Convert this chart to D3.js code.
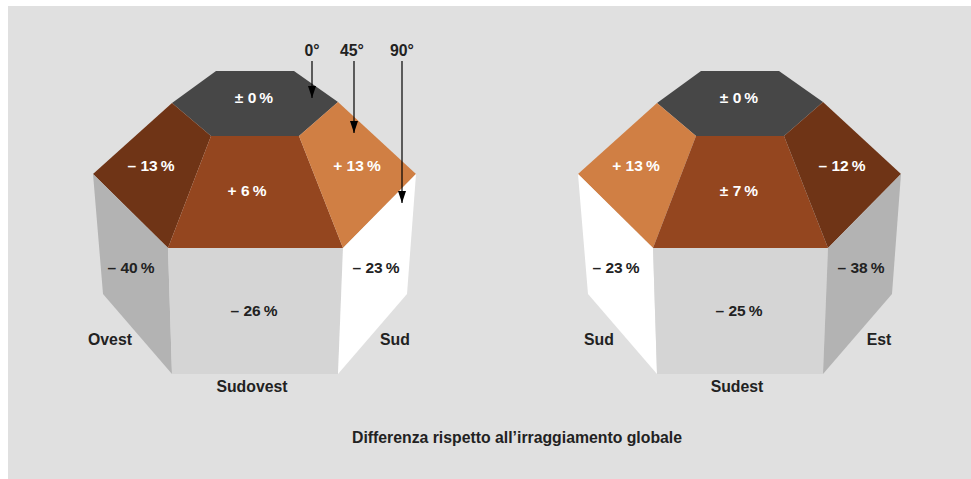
<!DOCTYPE html>
<html>
<head>
<meta charset="utf-8">
<script src="https://cdn.jsdelivr.net/npm/d3@7"></script>
<style>
  html, body { margin: 0; padding: 0; background: #fff; }
  svg { display: block; }
  text { font-family: "Liberation Sans", Arial, sans-serif; font-weight: bold; }
</style>
</head>
<body>
<div id="chart"></div>
<script>
// differences from global irradiation, faces in the order of faceNames
const faceNames = ['top', 'upperLeft', 'upperMid', 'upperRight', 'wallLeft', 'wallMid', 'wallRight'];
const westValues = ['± 0\u2009%', '– 13\u2009%', '+ 6\u2009%', '+ 13\u2009%', '– 40\u2009%', '– 26\u2009%', '– 23\u2009%'];
const eastValues = ['± 0\u2009%', '+ 13\u2009%', '± 7\u2009%', '– 12\u2009%', '– 23\u2009%', '– 25\u2009%', '– 38\u2009%'];
const westDirections = ['Ovest', 'Sudovest', 'Sud'];
const eastDirections = ['Sud', 'Sudest', 'Est'];
const tiltLabels = ['0°', '45°', '90°'];
const caption = 'Differenza rispetto all’irraggiamento globale';

const width = 971, height = 479;

// shape of the roof in its own units: x from the axis, y down from the ridge
const roofPoints = {
    a: [-39, 0], b: [39, 0], c: [83, 31], d: [44, 65], e: [-44, 65], f: [-83, 32],
    g: [-162, 103], h: [-87, 177], i: [88, 177], j: [161, 103],
    k: [-83, 303], l: [83, 303], m: [-152, 223], n: [152, 223]
};
const faceOutlines = {
    top: 'abcdef', upperLeft: 'fehg', upperMid: 'edih', upperRight: 'dcji',
    wallLeft: 'ghkm', wallMid: 'hilk', wallRight: 'jnli'
};
const faceLabelAt = {
    top: [-1, 27], upperLeft: [-104, 95], upperMid: [-1, 120], upperRight: [102, 95],
    wallLeft: [-124, 197], wallMid: [-1, 240], wallRight: [121, 197]
};
const directionY = [268, 315, 268];
const tiltArrows = [[57, 27], [99, 62], [147, 132]];

const brown = { dark: '#6f3416', mid: '#94461f', light: '#d07f44' };
const grey = { dark: '#b3b3b3', mid: '#d5d5d5', light: '#ffffff' };

const panels = [
    {
        values: westValues, directions: westDirections, directionX: [-145, -3, 140],
        range: [93, 416], midNudge: -7, tilt: true,
        fills: ['#474747', brown.dark, brown.mid, brown.light, grey.dark, grey.mid, grey.light]
    },
    {
        values: eastValues, directions: eastDirections, directionX: [-141, -3, 139],
        range: [578, 901], midNudge: 0, tilt: false,
        fills: ['#474747', brown.light, brown.mid, brown.dark, grey.light, grey.mid, grey.dark]
    }
];
const valueFills = ['#fff', '#fff', '#fff', '#fff', '#222', '#222', '#222'];

const svg = d3.select('#chart').append('svg')
    .attr('width', width)
    .attr('height', height);

svg.append('rect')
    .attr('x', 8).attr('y', 6)
    .attr('width', width - 8).attr('height', height - 6)
    .attr('fill', '#e0e0e0');

svg.append('defs').append('marker')
    .attr('id', 'arrowhead')
    .attr('viewBox', '0 0 12 8')
    .attr('refX', 12).attr('refY', 4)
    .attr('orient', 'auto')
    .attr('markerUnits', 'userSpaceOnUse')
    .attr('markerWidth', 12).attr('markerHeight', 8)
    .append('path')
    .attr('d', 'M0,0L12,4L0,8Z')
    .attr('fill', '#000');

const y = d3.scaleLinear().domain([0, 303]).range([71, 374]);

panels.forEach((panel) => {
    const x = d3.scaleLinear().domain([-162, 161]).range(panel.range);
    const outline = d3.line().x((p) => x(p[0])).y((p) => y(p[1])).curve(d3.curveLinearClosed);
    const g = svg.append('g');

    g.selectAll('path.face')
        .data(faceNames)
        .enter()
        .append('path')
        .attr('class', 'face')
        .attr('d', (name) => outline(Array.from(faceOutlines[name], (k) => roofPoints[k])))
        .attr('fill', (name, i) => panel.fills[i]);

    g.selectAll('text.value')
        .data(faceNames)
        .enter()
        .append('text')
        .attr('class', 'value')
        .attr('x', (name) => x(faceLabelAt[name][0] + (name === 'upperMid' ? panel.midNudge : 0)))
        .attr('y', (name) => y(faceLabelAt[name][1]))
        .attr('dy', '0.35em')
        .attr('text-anchor', 'middle')
        .attr('font-size', 15.5)
        .attr('fill', (name, i) => valueFills[i])
        .text((name, i) => panel.values[i]);

    g.selectAll('text.direction')
        .data(panel.directions)
        .enter()
        .append('text')
        .attr('class', 'direction')
        .attr('x', (d, i) => x(panel.directionX[i]))
        .attr('y', (d, i) => y(directionY[i]))
        .attr('dy', '0.35em')
        .attr('text-anchor', 'middle')
        .attr('font-size', 15.8)
        .attr('fill', '#222')
        .text((d) => d);

    if (panel.tilt) {
        g.selectAll('line.tilt')
            .data(tiltArrows)
            .enter()
            .append('line')
            .attr('class', 'tilt')
            .attr('x1', (d) => x(d[0])).attr('x2', (d) => x(d[0]))
            .attr('y1', y(-10))
            .attr('y2', (d) => y(d[1]))
            .attr('stroke', '#000')
            .attr('stroke-width', 1.2)
            .attr('marker-end', 'url(#arrowhead)');

        g.selectAll('text.tilt')
            .data(tiltLabels)
            .enter()
            .append('text')
            .attr('class', 'tilt')
            .attr('x', (d, i) => x(tiltArrows[i][0]) - (i === 1 ? 2 : 0))
            .attr('y', y(-21))
            .attr('dy', '0.35em')
            .attr('text-anchor', 'middle')
            .attr('font-size', 15.8)
            .attr('fill', '#222')
            .text((d) => d);
    }
});

svg.append('text')
    .attr('x', 517)
    .attr('y', 437)
    .attr('dy', '0.35em')
    .attr('text-anchor', 'middle')
    .attr('font-size', 15.8)
    .attr('fill', '#222')
    .text(caption);
</script>
</body>
</html>
